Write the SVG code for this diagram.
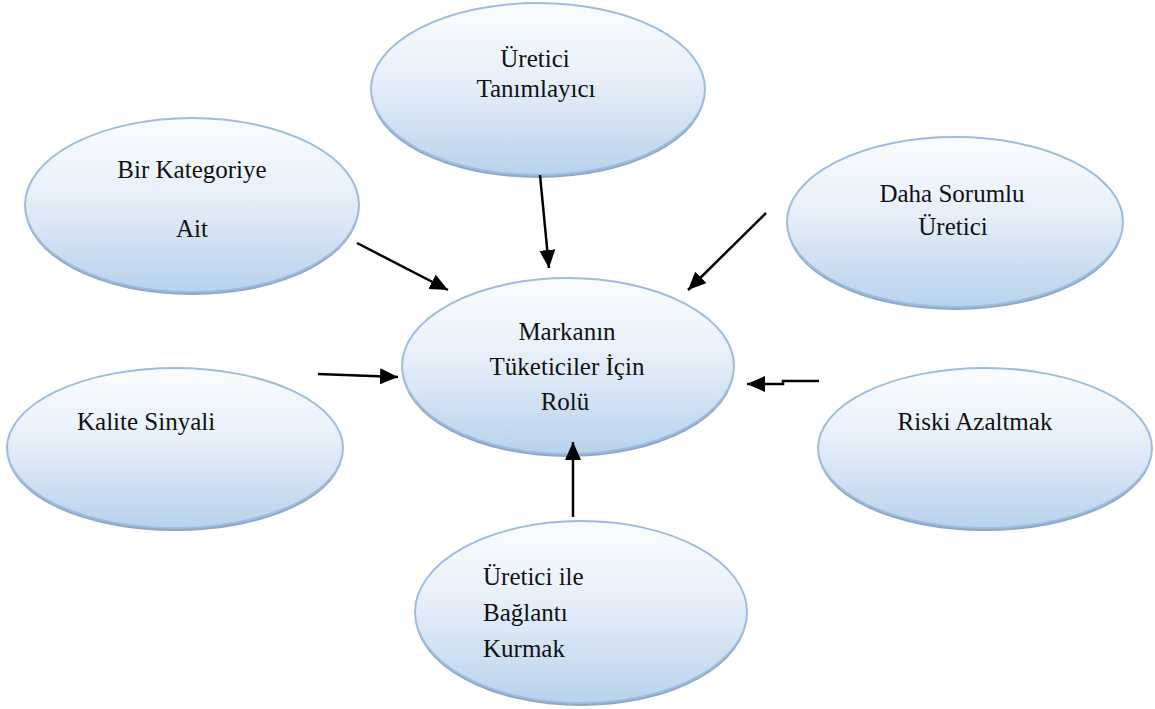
<svg xmlns="http://www.w3.org/2000/svg" width="1155" height="709" viewBox="0 0 1155 709">
  <style>
    .rim { fill: #8fa8c7; }
    .bubble { fill: url(#bubbleFill); stroke: #9dbde0; stroke-width: 2; }
    .label { font-size: 25px; fill: #111; }
    .mid { text-anchor: middle; }
    .link { fill: none; stroke: #000; stroke-width: 2.5; marker-end: url(#head); }
  </style>
  <defs>
    <linearGradient id="bubbleFill" x1="0" y1="0" x2="0" y2="1">
      <stop offset="0" stop-color="#fbfdff"/>
      <stop offset="0.45" stop-color="#e6eff9"/>
      <stop offset="1" stop-color="#b8d2ec"/>
    </linearGradient>
    <marker id="head" markerUnits="userSpaceOnUse" markerWidth="18" markerHeight="16" viewBox="0 0 18 16" refX="18" refY="8" orient="auto">
      <path d="M0,0 L18,8 L0,16 Z" fill="#000"/>
    </marker>
  </defs>

  <g font-family="Liberation Serif, DejaVu Serif, serif">
  <g id="node-uretici-tanimlayici">
    <ellipse class="rim" cx="538" cy="92" rx="167" ry="86"/>
    <ellipse class="bubble" cx="538" cy="89" rx="167" ry="86"/>
    <text class="label mid" x="535" y="67">Üretici</text>
    <text class="label mid" x="536" y="97">Tanımlayıcı</text>
  </g>

  <g id="node-bir-kategoriye-ait">
    <ellipse class="rim" cx="192" cy="208" rx="167" ry="87"/>
    <ellipse class="bubble" cx="192" cy="205" rx="167" ry="87"/>
    <text class="label mid" x="192" y="178">Bir Kategoriye</text>
    <text class="label mid" x="192" y="237">Ait</text>
  </g>

  <g id="node-daha-sorumlu-uretici">
    <ellipse class="rim" cx="955" cy="225" rx="168" ry="85"/>
    <ellipse class="bubble" cx="955" cy="222" rx="168" ry="85"/>
    <text class="label mid" x="952" y="202">Daha Sorumlu</text>
    <text class="label mid" x="953" y="235">Üretici</text>
  </g>

  <g id="node-markanin-rolu">
    <ellipse class="rim" cx="568" cy="369" rx="166" ry="88"/>
    <ellipse class="bubble" cx="568" cy="366" rx="166" ry="88"/>
    <text class="label mid" x="567" y="340">Markanın</text>
    <text class="label mid" x="567" y="375">Tüketiciler İçin</text>
    <text class="label mid" x="565" y="410">Rolü</text>
  </g>

  <g id="node-kalite-sinyali">
    <ellipse class="rim" cx="175" cy="451" rx="168" ry="80"/>
    <ellipse class="bubble" cx="175" cy="448" rx="168" ry="80"/>
    <text class="label" x="77" y="430">Kalite Sinyali</text>
  </g>

  <g id="node-riski-azaltmak">
    <ellipse class="rim" cx="985" cy="451" rx="167" ry="80"/>
    <ellipse class="bubble" cx="985" cy="448" rx="167" ry="80"/>
    <text class="label mid" x="975" y="430">Riski Azaltmak</text>
  </g>

  <g id="node-uretici-ile-baglanti">
    <ellipse class="rim" cx="581" cy="615" rx="166" ry="91"/>
    <ellipse class="bubble" cx="581" cy="612" rx="166" ry="91"/>
    <text class="label" x="483" y="585">Üretici ile</text>
    <text class="label" x="483" y="621">Bağlantı</text>
    <text class="label" x="483" y="657">Kurmak</text>
  </g>
  </g>

  <g id="connectors">
    <path class="link" d="M540,175 L549,268"/>
    <path class="link" d="M357,243 L448,290"/>
    <path class="link" d="M766,213 L688,290"/>
    <path class="link" d="M318,374 L398,377"/>
    <path class="link" d="M819,381 H783 V384 H747"/>
    <path class="link" d="M573,517 L573,442"/>
  </g>
</svg>
